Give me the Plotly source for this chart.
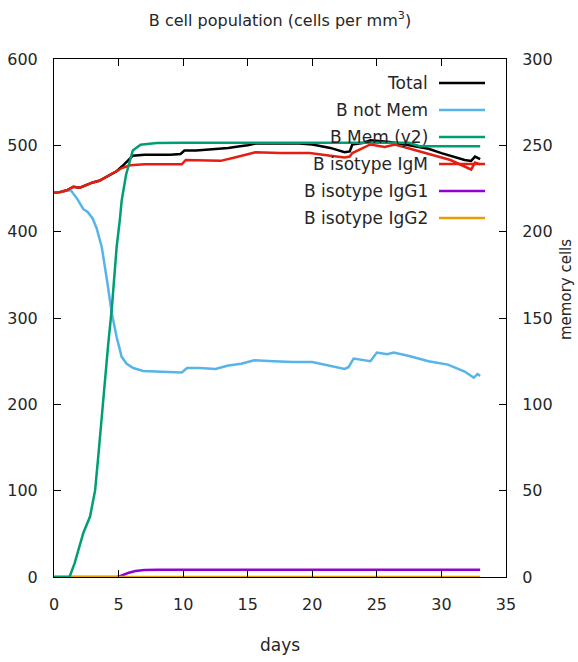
import plotly.graph_objects as go

# ---------------- data ----------------
days_total = [0, 0.5, 1, 1.5, 2, 2.5, 3, 3.5, 4, 4.5, 4.85, 5.3, 5.8, 6.1, 7, 8, 9, 9.8, 10.1, 11, 12,
              12.9, 13.5, 14.4, 15, 15.6, 17, 19, 20, 21.4, 22.5, 22.9, 23.1, 24, 24.5, 26, 27.5, 29, 30,
              31, 31.8, 32.3, 32.6, 33]
total = [445, 446, 448, 452, 451, 454, 457, 459, 463, 467, 470, 476, 484, 488, 489, 489, 489, 490, 494,
         494, 495, 496, 497, 499, 500, 502, 502, 502, 501, 497, 492, 493, 501, 503, 506, 504, 500, 496,
         491, 487, 483, 482, 487, 484]

days_notmem = [0, 0.5, 1, 1.3, 1.8, 2.27, 2.6, 3, 3.3, 3.7, 4.1, 4.47, 4.85, 5.24, 5.63, 6.14, 6.9, 8,
               9.9, 10.3, 11.3, 12.5, 13.5, 14.5, 15.5, 17, 18.5, 20, 21, 22.5, 22.8, 23.2, 24.5, 25,
               25.8, 26.3, 27.5, 29, 30.5, 31.8, 32.5, 32.8, 33]
notmem = [445, 446, 447, 448, 438, 426, 423, 415, 404, 382, 344, 306, 278, 255, 247, 242, 238.6, 238,
          237, 242, 242, 241, 245, 247, 251, 250, 249, 249, 246, 241, 243, 253, 250, 260, 258, 260, 256,
          250, 246, 238, 231, 235, 233]

days_mem = [0, 1.2, 1.6, 2.27, 2.79, 3.18, 3.43, 3.69, 3.82, 3.95, 4.2, 4.47, 4.85, 5.1, 5.24, 5.58,
            6.1, 6.7, 7.95, 10, 15, 20, 25, 27.5, 28.3, 33]
mem_y2 = [0, 0, 8, 25.5, 35, 50, 70, 93, 102.5, 114, 135, 155, 191, 207, 218, 233, 247, 250.3, 251.3,
          251.5, 251.5, 251.5, 251.5, 251.5, 249.5, 249.5]

days_igm = [0, 0.5, 1, 1.5, 2, 2.5, 3, 3.5, 4, 4.5, 4.85, 5.3, 5.9, 7, 9, 9.9, 10.2, 12, 12.9, 14,
            14.5, 15.6, 17.5, 19.8, 21.4, 22.5, 22.9, 23.1, 24.5, 25.6, 26.4, 28.3, 30.7, 32.3, 32.6, 33]
igm = [445, 446, 448, 452, 451, 454, 457, 459, 463, 467, 470, 474, 477, 478, 478, 478, 483, 482, 482,
       486, 488, 492, 491, 491, 488, 486, 487, 491, 501, 498, 501, 493, 483, 472, 480, 478]

days_igg1 = [0, 4.9, 5.3, 5.8, 6.3, 7, 8, 33]
igg1 = [0, 0, 2, 5, 7, 8, 8.5, 8.5]

days_igg2 = [0, 33]
igg2 = [0, 0]

series_names = ["Total", "B not Mem", "B Mem (y2)", "B isotype IgM", "B isotype IgG1", "B isotype IgG2"]
colors = ["#000000", "#56B4E9", "#009E73", "#E51E10", "#9400D3", "#E69F00"]

x_ticks = [0, 5, 10, 15, 20, 25, 30, 35]
y_ticks = [0, 100, 200, 300, 400, 500, 600]
y2_ticks = [0, 50, 100, 150, 200, 250, 300]

FONT = "DejaVu Sans, sans-serif"
TXT = "#262626"
LW = 2.5

fig = go.Figure()
data = [
    (days_total, total, "y"),
    (days_notmem, notmem, "y"),
    (days_mem, mem_y2, "y2"),
    (days_igm, igm, "y"),
    (days_igg1, igg1, "y"),
    (days_igg2, igg2, "y"),
]
for (xs, ys, ax), name, c in zip(data, series_names, colors):
    fig.add_trace(go.Scatter(x=xs, y=ys, name=name, mode="lines", yaxis=ax,
                             line=dict(color=c, width=LW), showlegend=False))

# custom legend (text left of sample line, gnuplot style)
L, R, T, B = 54, 506, 59, 577
W, H = R - L, B - T
row_px = [83, 110, 137, 164, 191, 218]
for name, c, ypx in zip(series_names, colors, row_px):
    yp = (B - ypx) / H
    fig.add_annotation(x=(430 - L) / W, y=yp, xref="paper", yref="paper", text=name,
                       showarrow=False, xanchor="right", yanchor="middle",
                       font=dict(family=FONT, size=17, color=TXT))
    fig.add_shape(type="line", xref="paper", yref="paper", x0=(439 - L) / W, x1=(485 - L) / W,
                  y0=yp, y1=yp, line=dict(color=c, width=LW))

# axis labels
fig.add_annotation(x=0.5, y=(B - 645) / H, xref="paper", yref="paper", text="days", showarrow=False,
                   xanchor="center", yanchor="middle", font=dict(family=FONT, size=17, color=TXT))
fig.add_annotation(x=(566 - L) / W, y=(B - 290) / H, xref="paper", yref="paper", text="memory cells",
                   showarrow=False, textangle=-90, xanchor="center", yanchor="middle",
                   font=dict(family=FONT, size=15, color=TXT))

axis_common = dict(showline=True, linecolor="black", linewidth=1, ticks="inside", ticklen=7,
                   tickcolor="black", showgrid=False, zeroline=False, automargin=False,
                   tickfont=dict(family=FONT, size=16, color=TXT))

fig.update_layout(
    width=578, height=662,
    margin=dict(l=L, r=578 - R, t=T, b=662 - B, pad=0),
    paper_bgcolor="white", plot_bgcolor="white",
    title=dict(text="B cell population (cells per mm<sup>3</sup>)", x=280 / 578, xanchor="center",
               y=1 - 20 / 662, yanchor="middle", font=dict(family=FONT, size=16, color=TXT)),
    xaxis=dict(range=[0, 35], tickvals=x_ticks, mirror="ticks", ticklabelstandoff=13, **axis_common),
    yaxis=dict(range=[0, 600], tickvals=y_ticks, ticklabelstandoff=12, **axis_common),
    yaxis2=dict(range=[0, 300], tickvals=y2_ticks, overlaying="y", side="right",
                ticklabelstandoff=12, **axis_common),
)

fig.write_html("out.html")
